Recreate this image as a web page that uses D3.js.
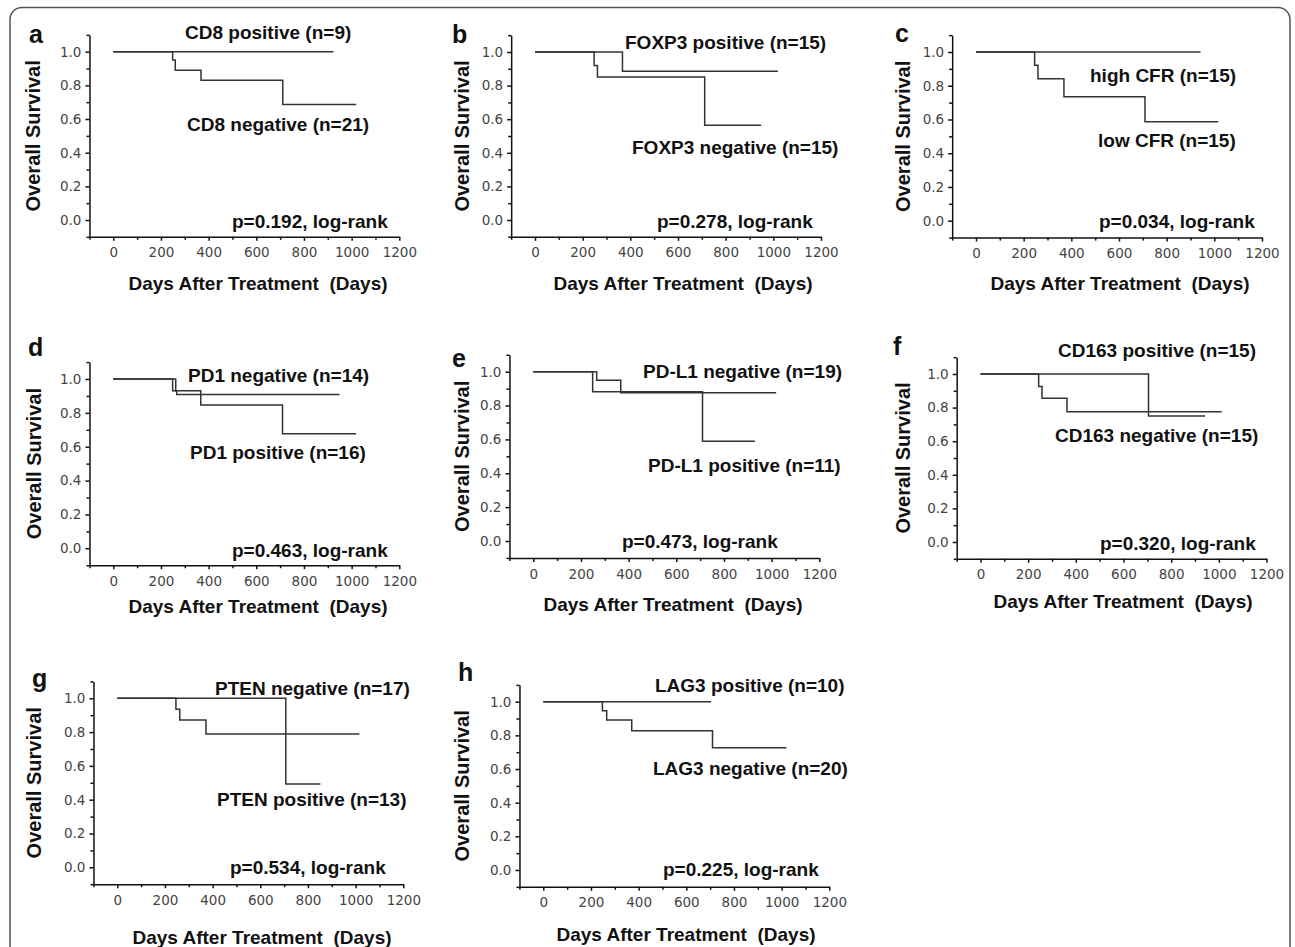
<!DOCTYPE html>
<html>
<head>
<meta charset="utf-8">
<script src="https://cdn.jsdelivr.net/npm/d3@7"></script>
<style>
    body { margin: 0; background: #fff; }
    svg text { white-space: pre; }
    .tick text { font-family: "DejaVu Sans", Verdana, sans-serif; font-size: 13.5px; fill: #444; }
    .lbl { font-family: "Liberation Sans", Arial, sans-serif; font-weight: bold; font-size: 19px; fill: #111; }
    .ytitle { font-family: "Liberation Sans", Arial, sans-serif; font-weight: bold; font-size: 20px; fill: #111; }
    .letter { font-family: "Liberation Sans", Arial, sans-serif; font-weight: bold; font-size: 25px; fill: #111; }
</style>
</head>
<body>
<svg id="fig" width="1295" height="947"></svg>
<script>
// --- values (days, overall survival) ---
const dayTicks = [0, 200, 400, 600, 800, 1000, 1200];
const dayMinorTicks = [-100, 100, 300, 500, 700, 900, 1100];
const survTicks = [0, 0.2, 0.4, 0.6, 0.8, 1.0];
const survMinorTicks = [-0.1, 0.1, 0.3, 0.5, 0.7, 0.9, 1.1];

const cd8Pos = [[0, 1], [924, 1]];
const cd8Neg = [[0, 1], [249, 0.95], [260, 0.89], [368, 0.83], [711, 0.687], [1019, 0.687]];
const foxp3Pos = [[0, 1], [367, 0.885], [1019, 0.885]];
const foxp3Neg = [[0, 1], [248, 0.92], [262, 0.851], [712, 0.564], [949, 0.564]];
const cfrHigh = [[0, 1], [942, 1]];
const cfrLow = [[0, 1], [246, 0.921], [260, 0.842], [369, 0.734], [709, 0.586], [1016, 0.586]];
const pd1Neg = [[0, 1], [249, 0.93], [266, 0.909], [949, 0.909]];
const pd1Pos = [[0, 1], [262, 0.931], [367, 0.846], [710, 0.677], [1019, 0.677]];
const pdl1Neg = [[0, 1], [266, 0.949], [367, 0.876], [1019, 0.876]];
const pdl1Pos = [[0, 1], [249, 0.882], [710, 0.589], [930, 0.589]];
const cd163Pos = [[0, 1], [705, 0.75], [942, 0.75]];
const cd163Neg = [[0, 1], [244, 0.925], [258, 0.855], [363, 0.776], [1012, 0.776]];
const ptenNeg = [[0, 1], [707, 0.493], [852, 0.493]];
const ptenPos = [[0, 1], [246, 0.935], [262, 0.872], [372, 0.789], [1016, 0.789]];
const lag3Pos = [[0, 1], [704, 1]];
const lag3Neg = [[0, 1], [248, 0.946], [266, 0.891], [371, 0.827], [710, 0.726], [1020, 0.726]];

const panelLetters = ["a", "b", "c", "d", "e", "f", "g", "h"];
const panelSeries = [
    [cd8Pos, cd8Neg], [foxp3Pos, foxp3Neg], [cfrHigh, cfrLow], [pd1Neg, pd1Pos],
    [pdl1Neg, pdl1Pos], [cd163Pos, cd163Neg], [ptenNeg, ptenPos], [lag3Pos, lag3Neg]
];
const groupLabels = [
    ["CD8 positive (n=9)", "CD8 negative (n=21)"],
    ["FOXP3 positive (n=15)", "FOXP3 negative (n=15)"],
    ["high CFR (n=15)", "low CFR (n=15)"],
    ["PD1 negative (n=14)", "PD1 positive (n=16)"],
    ["PD-L1 negative (n=19)", "PD-L1 positive (n=11)"],
    ["CD163 positive (n=15)", "CD163 negative (n=15)"],
    ["PTEN negative (n=17)", "PTEN positive (n=13)"],
    ["LAG3 positive (n=10)", "LAG3 negative (n=20)"]
];
const pValues = ["0.192", "0.278", "0.034", "0.463", "0.473", "0.320", "0.534", "0.225"];
const yTitle = "Overall Survival";
const xTitle = "Days After Treatment  (Days)";

// --- layout (pixel positions of each panel, measured on the figure) ---
const PLOT_W = 286; // width of 0..1200 days
// x0: day 0, y1: survival 1.0, y0: survival 0.0
const frames = [
    {x0: 113.3, y1: 51.7, y0: 220,   letter: [29, 43],   lab1: [185, 39],   lab2: [187, 131],  p: [232, 228],  xt: 258, xtY: 290, ytX: 33},
    {x0: 535,   y1: 52,   y0: 220,   letter: [452, 43],  lab1: [625, 49],   lab2: [632, 154],  p: [657, 228],  xt: 683, xtY: 290, ytX: 462},
    {x0: 976,   y1: 52,   y0: 220.7, letter: [895, 42],  lab1: [1090, 82],  lab2: [1098, 147], p: [1099, 228], xt: 1120, xtY: 290, ytX: 903},
    {x0: 113.3, y1: 379,  y0: 548.3, letter: [28, 356],  lab1: [188, 382],  lab2: [190, 459],  p: [232, 557],  xt: 258, xtY: 613, ytX: 34},
    {x0: 533.3, y1: 371.7,y0: 541,   letter: [452, 367], lab1: [643, 378],  lab2: [648, 472],  p: [622, 548],  xt: 673, xtY: 611, ytX: 462},
    {x0: 980.5, y1: 374,  y0: 542,   letter: [893, 355], lab1: [1058, 357], lab2: [1055, 442], p: [1100, 550], xt: 1123, xtY: 608, ytX: 903},
    {x0: 117.3, y1: 698.3,y0: 867.3, letter: [32, 687],  lab1: [215, 695],  lab2: [217, 806],  p: [230, 874],  xt: 262, xtY: 944, ytX: 34},
    {x0: 543.3, y1: 701.7,y0: 870,   letter: [458, 681], lab1: [655, 692],  lab2: [653, 775],  p: [663, 876],  xt: 686, xtY: 941, ytX: 462}
];

const svg = d3.select("#fig");

// rounded outer frame (runs off the bottom edge)
svg.append("rect")
    .attr("x", 10).attr("y", 7.5)
    .attr("width", 1280).attr("height", 990)
    .attr("rx", 12)
    .attr("fill", "none")
    .attr("stroke", "#555")
    .attr("stroke-width", 1.5);

function drawPanel(i) {
    const f = frames[i];
    const span = f.y0 - f.y1;
    const x = d3.scaleLinear()
        .domain([-100, 1200])
        .range([f.x0 - PLOT_W / 12, f.x0 + PLOT_W]);
    const y = d3.scaleLinear()
        .domain([-0.1, 1.1])
        .range([f.y0 + 0.1 * span, f.y1 - 0.1 * span]);

    const g = svg.append("g").attr("class", "panel");
    const axisY = y(-0.1);
    const axisX = x(-100);

    // x axis: minor ticks, then major ticks with labels
    g.append("g")
        .attr("transform", `translate(0,${axisY})`)
        .call(d3.axisBottom(x).tickValues(dayMinorTicks).tickSize(3).tickSizeOuter(0).tickFormat(""))
        .call(a => a.select(".domain").remove());
    g.append("g")
        .attr("transform", `translate(0,${axisY})`)
        .call(d3.axisBottom(x).tickValues(dayTicks).tickSize(4).tickSizeOuter(0).tickPadding(7).tickFormat(d3.format("d")));

    // y axis
    g.append("g")
        .attr("transform", `translate(${axisX},0)`)
        .call(d3.axisLeft(y).tickValues(survMinorTicks).tickSize(3).tickSizeOuter(0).tickFormat(""))
        .call(a => a.select(".domain").remove());
    g.append("g")
        .attr("transform", `translate(${axisX},0)`)
        .call(d3.axisLeft(y).tickValues(survTicks).tickSize(4).tickSizeOuter(0).tickPadding(4).tickFormat(d3.format(".1f")));

    g.selectAll(".domain, .tick line")
        .attr("stroke", "#111")
        .attr("stroke-width", 1.5);

    // survival curves
    const line = d3.line()
        .x(d => x(d[0]))
        .y(d => y(d[1]))
        .curve(d3.curveStepAfter);
    g.selectAll("path.km")
        .data(panelSeries[i])
        .join("path")
            .attr("class", "km")
            .attr("d", line)
            .attr("fill", "none")
            .attr("stroke", "#333")
            .attr("stroke-width", 1.5);

    // texts
    g.append("text").attr("class", "letter")
        .attr("x", f.letter[0]).attr("y", f.letter[1]).text(panelLetters[i]);
    g.append("text").attr("class", "lbl")
        .attr("x", f.lab1[0]).attr("y", f.lab1[1]).text(groupLabels[i][0]);
    g.append("text").attr("class", "lbl")
        .attr("x", f.lab2[0]).attr("y", f.lab2[1]).text(groupLabels[i][1]);
    g.append("text").attr("class", "lbl")
        .attr("x", f.p[0]).attr("y", f.p[1]).text(`p=${pValues[i]}, log-rank`);
    g.append("text").attr("class", "lbl")
        .attr("text-anchor", "middle")
        .attr("x", f.xt).attr("y", f.xtY).text(xTitle);
    g.append("text").attr("class", "ytitle")
        .attr("text-anchor", "middle")
        .attr("transform", `translate(${f.ytX + 7},${(y(-0.1) + y(1.1)) / 2}) rotate(-90)`)
        .text(yTitle);
}

panelLetters.forEach((d, i) => drawPanel(i));
</script>
</body>
</html>
